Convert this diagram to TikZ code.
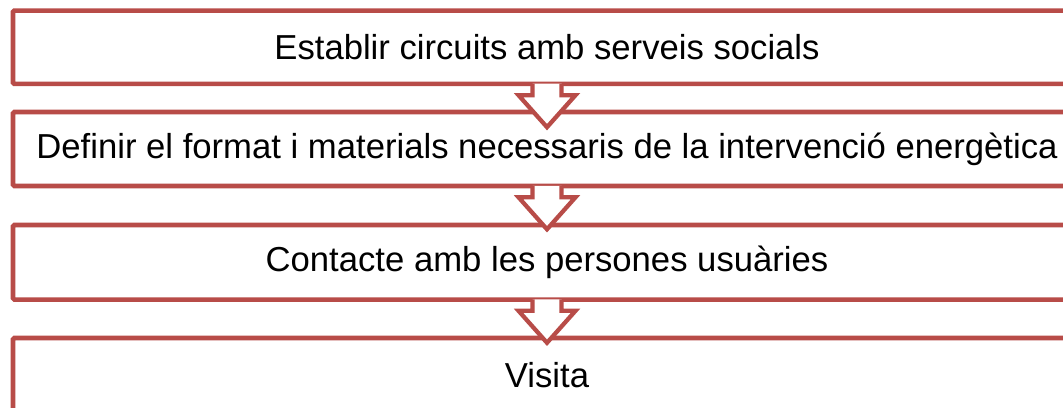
\documentclass[tikz,border=0pt]{standalone}
\usepackage{fontspec}
\setmainfont{Liberation Sans}
\definecolor{boxred}{RGB}{184,76,72}
\tikzset{
  x=0.75pt, y=-0.75pt,
  stepbox/.style={draw=boxred, line width=3.4pt, fill=white, rounded corners=1pt,
    minimum width=801pt, inner sep=0pt, font=\fontsize{26pt}{30pt}\selectfont, text=black},
  blockarrow/.style={draw=boxred, line width=3.2pt, line join=miter},
}
\begin{document}
\begin{tikzpicture}
\useasboundingbox (0,0) rectangle (1063,407);
\clip (0,0) rectangle (1063,407);
\node[stepbox, minimum height=55pt] (b1) at (547,47.25) {Establir circuits amb serveis socials};
\node[stepbox, minimum height=55.5pt] (b2) at (547,149) {Definir el format i materials necessaris de la intervenció energètica};
\node[stepbox, minimum height=55.9pt] (b3) at (547,262.25) {Contacte amb les persones usuàries};
\node[stepbox, minimum height=55.5pt] (b4) at (547,375) {Visita};
\foreach \a in {b1,b2,b3}{
  \begin{scope}[shift={(\a.south)}]
    \fill[white] (-14.5,-2.5) -- (-14.5,9) -- (-28.5,9) -- (0,41) -- (28.5,9) -- (14.5,9) -- (14.5,-2.5) -- cycle;
    \draw[blockarrow] (-14.5,-2.5) -- (-14.5,9) -- (-28.5,9) -- (0,41) -- (28.5,9) -- (14.5,9) -- (14.5,-2.5);
  \end{scope}
}
\end{tikzpicture}
\end{document}
